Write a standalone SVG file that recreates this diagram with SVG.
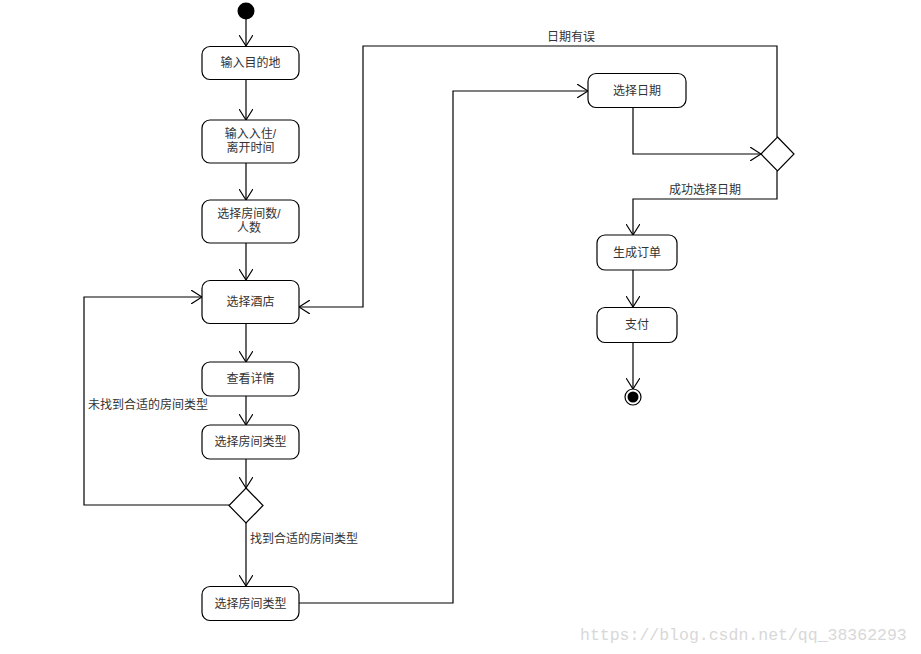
<svg xmlns="http://www.w3.org/2000/svg" width="921" height="654" viewBox="0 0 921 654">
<style>
.box{fill:#fff;stroke:#000;stroke-width:1.2}
.t{font-family:"Liberation Sans","Noto Sans CJK SC",sans-serif;font-size:12px;fill:#333;text-anchor:middle}
.l{font-family:"Liberation Sans","Noto Sans CJK SC",sans-serif;font-size:12px;fill:#333}
.c{fill:none;stroke:#000;stroke-width:1.2}
</style>
<defs>
<marker id="a" viewBox="0 0 12 14" refX="11" refY="7" markerWidth="12" markerHeight="14" markerUnits="userSpaceOnUse" orient="auto">
<path d="M0,0 L11,7 L0,14" fill="none" stroke="#000" stroke-width="1.2"/>
</marker>
</defs>
<rect width="921" height="654" fill="#fff"/>
<g id="connectors">
<path class="c" d="M246,19 V46" marker-end="url(#a)"/>
<path class="c" d="M246,80 V120" marker-end="url(#a)"/>
<path class="c" d="M246,163 V200" marker-end="url(#a)"/>
<path class="c" d="M246,243 V280" marker-end="url(#a)"/>
<path class="c" d="M246,324 V362" marker-end="url(#a)"/>
<path class="c" d="M246,396 V425" marker-end="url(#a)"/>
<path class="c" d="M246,459 V488" marker-end="url(#a)"/>
<path class="c" d="M229,505 H84 V297 H202" marker-end="url(#a)"/>
<path class="c" d="M246,523 V586" marker-end="url(#a)"/>
<path class="c" d="M299,603 H453 V91 H588" marker-end="url(#a)"/>
<path class="c" d="M633,108 V154 H761" marker-end="url(#a)"/>
<path class="c" d="M777,137 V46 H363 V307 H299" marker-end="url(#a)"/>
<path class="c" d="M777,171 V199 H633 V235" marker-end="url(#a)"/>
<path class="c" d="M633,270 V307" marker-end="url(#a)"/>
<path class="c" d="M633,343 V389" marker-end="url(#a)"/>
<text class="l" x="88" y="409">未找到合适的房间类型</text>
<text class="l" x="250" y="543">找到合适的房间类型</text>
<text class="l" x="547" y="41">日期有误</text>
<text class="l" x="669" y="194">成功选择日期</text>
</g>
<g id="start"><circle cx="246" cy="11" r="8.5" fill="#000"/></g>
<g id="n1"><rect class="box" x="202" y="46.5" width="97" height="33" rx="8"/><text class="t" x="250.5" y="67">输入目的地</text></g>
<g id="n2"><rect class="box" x="202" y="120" width="97" height="43" rx="8"/><text class="t" x="250.5" y="138">输入入住/</text><text class="t" x="250.5" y="152">离开时间</text></g>
<g id="n3"><rect class="box" x="202" y="200" width="97" height="43" rx="8"/><text class="t" x="249" y="218">选择房间数/</text><text class="t" x="249" y="232">人数</text></g>
<g id="n4"><rect class="box" x="202" y="280.5" width="97" height="43" rx="8"/><text class="t" x="250.5" y="306">选择酒店</text></g>
<g id="n5"><rect class="box" x="202" y="362" width="97" height="34" rx="8"/><text class="t" x="250.5" y="383">查看详情</text></g>
<g id="n6"><rect class="box" x="202" y="425" width="97" height="34" rx="8"/><text class="t" x="250.5" y="446">选择房间类型</text></g>
<g id="d1"><path class="box" d="M246,488 L263,505.5 L246,523 L229,505.5 Z"/></g>
<g id="n7"><rect class="box" x="202" y="586.5" width="97" height="34" rx="8"/><text class="t" x="250.5" y="608">选择房间类型</text></g>
<g id="n8"><rect class="box" x="588" y="73.5" width="98" height="34" rx="8"/><text class="t" x="637" y="95">选择日期</text></g>
<g id="d2"><path class="box" d="M777.5,137 L794,154 L777.5,171 L761,154 Z"/></g>
<g id="n9"><rect class="box" x="597" y="235" width="80" height="35" rx="8"/><text class="t" x="637" y="257">生成订单</text></g>
<g id="n10"><rect class="box" x="597" y="307.5" width="80" height="35" rx="8"/><text class="t" x="637" y="329">支付</text></g>
<g id="end"><circle cx="633" cy="397" r="8" fill="#fff" stroke="#000" stroke-width="1.2"/><circle cx="633" cy="397" r="5.5" fill="#000"/></g>
<text x="580" y="640" font-family="Liberation Mono,monospace" font-size="16.5" fill="#d8d8d8">https://blog.csdn.net/qq_38362293</text>
</svg>
